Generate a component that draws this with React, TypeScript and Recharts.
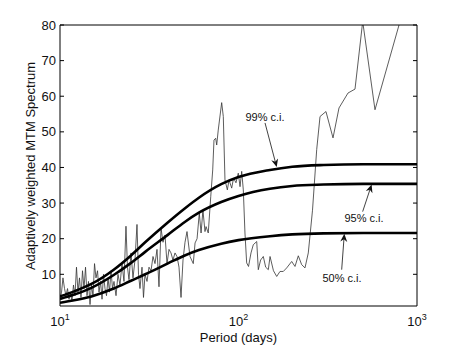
import { LineChart, Line, XAxis, YAxis, ReferenceLine, ReferenceDot } from "recharts";

// adaptively weighted MTM spectrum (period in days)
const specPeriods = [
  10.0, 10.2, 10.39, 10.6, 10.8, 11.02, 11.23, 11.45, 11.67, 11.9, 12.13, 12.37, 12.61, 12.86,
  13.11, 13.37, 13.63, 13.9, 14.17, 14.44, 14.73, 15.01, 15.31, 15.61, 15.91, 16.23, 16.54,
  16.87, 17.2, 17.53, 17.87, 18.22, 18.58, 18.94, 19.31, 19.69, 20.07, 20.6, 21.13, 21.68,
  22.25, 22.83, 23.42, 23.88, 24.35, 24.99, 25.64, 26.31, 27.0, 27.53, 28.06, 28.8, 29.36,
  29.94, 30.72, 31.52, 32.35, 33.19, 34.06, 34.95, 35.86, 36.8, 37.76, 38.75, 39.76, 40.8,
  41.86, 42.95, 44.09, 45.24, 46.42, 47.64, 48.88, 50.16, 51.47, 53.5, 55.8, 57.1, 58.6,
  60.3, 61.7, 63.2, 64.9, 65.8, 67.7, 69.9, 71.7, 72.9, 74.5, 75.5, 77.0, 80.5, 82.2, 84.0,
  86.6, 88.5, 91.6, 93.8, 96.8, 99.7, 102, 104.2, 106.4, 108.7, 111.1, 113.8, 117.5, 121,
  126.5, 129.1, 133, 137.7, 142, 146.9, 150.2, 157, 163.7, 170.8, 178.2, 186.2, 198.6,
  207.3, 216.3, 225.9, 235.8, 246, 259.8, 274.2, 286.2, 297.4, 309, 338.4, 365.6, 410.7,
  449.5, 496.4, 581.7, 793, 1000,
];
const specValues = [
  3, 5, 9, 6, 4, 6, 3, 5, 2.5, 7, 4, 12, 5, 9,
  3.5, 11, 6, 12, 4, 8, 1.5, 7, 4, 13, 9, 11, 5,
  8, 3, 10, 6, 4, 9, 5, 11, 6, 8, 4, 10, 7,
  13, 8, 23.5, 12, 8.5, 16, 9, 14, 24, 10, 6, 12, 3.5,
  10, 8, 12, 11, 15, 13, 17, 6.5, 23, 19, 21, 13, 17,
  16, 14, 16, 15, 12, 3.5, 14, 19, 22, 15, 13, 18.8, 20,
  27.2, 21.6, 28, 22, 23.4, 21.6, 31.8, 39.3, 47.7, 48.2, 46.3, 50.5, 58.2, 54.3, 36.5,
  33.7, 36.5, 34.2, 37, 35.7, 38.4, 34.6, 38.9, 33.7, 21.6, 13.2, 12.2, 16, 18.3,
  19.2, 11.3, 14, 15, 12, 11.3, 15, 11, 9.4, 10.8, 10.8, 11.8, 13.6,
  12.2, 15.2, 12.7, 11.8, 16, 28, 45, 54.3, 55, 55.7, 48.3, 56.7, 60.9,
  62, 81, 56.2, 80, 98,
];

// confidence levels
const ciPeriods = [10, 12, 15, 20, 25, 30, 40, 50, 60, 80, 100, 150, 200, 300, 500, 1000];
const ci99 = [3.8, 5.2, 7.3, 11.3, 15.3, 19, 24.5, 28.5, 31.5, 35.3, 37.3, 39.3, 40.2, 40.7, 40.9, 40.9];
const ci95 = [3.1, 4.3, 6.2, 9.8, 13.2, 16.3, 21, 24.7, 27.3, 30.3, 32, 34, 34.8, 35.2, 35.4, 35.4];
const ci50 = [2, 2.7, 3.8, 6, 8.2, 10, 13, 15.3, 16.8, 18.6, 19.6, 20.7, 21.2, 21.5, 21.6, 21.6];

const xMajor = [10, 100, 1000];
const xMinor = [20, 30, 40, 50, 60, 70, 80, 90, 100, 200, 300, 400, 500, 600, 700, 800, 900];
const yTicks = [10, 20, 30, 40, 50, 60, 70, 80];

// annotation: label position, arrow tail, arrow tip (data coords)
const notes = [
  { text: "99% c.i.", label: [140.8, 54.2], tail: [140.8, 52.5], tip: [163.7, 40.1] },
  { text: "95% c.i.", label: [505, 25.9], tail: [496, 27.6], tip: [557, 35.2] },
  { text: "50% c.i.", label: [380, 9.0], tail: [378.5, 11.3], tip: [391.6, 21.4] },
];

const spectrum = specPeriods.map((p, i) => ({ p, v: specValues[i] }));
const ciData = ciPeriods.map((p, i) => ({ p, c99: ci99[i], c95: ci95[i], c50: ci50[i] }));

const FONT = "'Liberation Sans', Arial, Helvetica, sans-serif";

function PowTick({ x, y, payload }: any) {
  const e = Math.round(Math.log10(payload.value));
  return (
    <text x={x} y={y + 20} textAnchor="middle" fill="#111" fontSize={13} fontFamily={FONT}>
      <tspan>10</tspan>
      <tspan dy={-6} fontSize={9}>{e}</tspan>
    </text>
  );
}

const NoTick = () => <g />;

function Arrow(props: any) {
  const { x1, y1, x2, y2 } = props;
  const dx = x2 - x1;
  const dy = y2 - y1;
  const len = Math.sqrt(dx * dx + dy * dy);
  const ux = dx / len;
  const uy = dy / len;
  const bx = x2 - ux * 8;
  const by = y2 - uy * 8;
  const head = `${x2},${y2} ${bx - uy * 3.5},${by + ux * 3.5} ${x2 - ux * 5.5},${y2 - uy * 5.5} ${bx + uy * 3.5},${by - ux * 3.5}`;
  return (
    <g>
      <line x1={x1} y1={y1} x2={x2 - ux * 5} y2={y2 - uy * 5} stroke="#111" strokeWidth={0.8} />
      <polygon points={head} fill="#111" />
    </g>
  );
}

export default function App() {
  return (
    <div style={{ width: 460, height: 346, background: "#fff" }}>
      <style>{"body{margin:0}"}</style>
      <LineChart width={460} height={346} margin={{ top: 25, right: 43, bottom: 0, left: 10 }}>
        <XAxis
          xAxisId="x"
          type="number"
          dataKey="p"
          scale="log"
          domain={[10, 1000]}
          allowDataOverflow
          ticks={xMajor}
          tick={<PowTick />}
          tickLine={false}
          tickSize={0}
          tickMargin={0}
          axisLine={{ stroke: "#000" }}
          height={40}
          label={{
            content: ({ viewBox }: any) => (
              <text
                x={viewBox.x + viewBox.width / 2}
                y={viewBox.y + 31}
                textAnchor="middle"
                dominantBaseline="central"
                fontSize={13}
                fontFamily={FONT}
                fill="#111"
              >
                Period (days)
              </text>
            ),
          }}
        />
        <XAxis xAxisId="xb" type="number" scale="log" domain={[10, 1000]} allowDataOverflow ticks={xMinor}
          mirror orientation="bottom" tick={<NoTick />} tickSize={4} tickLine={{ stroke: "#000" }} axisLine={false} />
        <XAxis xAxisId="xt" type="number" scale="log" domain={[10, 1000]} allowDataOverflow ticks={xMinor}
          mirror orientation="top" tick={<NoTick />} tickSize={4} tickLine={{ stroke: "#000" }} axisLine={{ stroke: "#000" }} />
        <YAxis
          yAxisId="y"
          type="number"
          domain={[1.1, 80]}
          allowDataOverflow
          ticks={yTicks}
          tickLine={false}
          tickSize={0}
          tickMargin={4}
          tick={{ fill: "#111", fontSize: 13, fontFamily: FONT }}
          axisLine={{ stroke: "#000" }}
          width={50}
          label={{
            content: () => (
              <text
                x={30.5}
                y={166}
                transform="rotate(-90 30.5 166)"
                textAnchor="middle"
                dominantBaseline="central"
                fontSize={13}
                fontFamily={FONT}
                fill="#111"
              >
                Adaptively weighted MTM Spectrum
              </text>
            ),
          }}
        />
        <YAxis yAxisId="yl" type="number" domain={[1.1, 80]} allowDataOverflow ticks={yTicks} mirror orientation="left"
          tick={<NoTick />} tickSize={4} tickLine={{ stroke: "#000" }} axisLine={false} />
        <YAxis yAxisId="yr" type="number" domain={[1.1, 80]} allowDataOverflow ticks={yTicks} mirror orientation="right"
          tick={<NoTick />} tickSize={4} tickLine={{ stroke: "#000" }} axisLine={{ stroke: "#000" }} />

        <Line xAxisId="x" yAxisId="y" data={spectrum} dataKey="v" stroke="#333" strokeWidth={0.8}
          dot={false} isAnimationActive={false} type="linear" />
        <Line xAxisId="x" yAxisId="y" data={ciData} dataKey="c99" stroke="#000" strokeWidth={2.6}
          dot={false} isAnimationActive={false} type="monotone" />
        <Line xAxisId="x" yAxisId="y" data={ciData} dataKey="c95" stroke="#000" strokeWidth={2.6}
          dot={false} isAnimationActive={false} type="monotone" />
        <Line xAxisId="x" yAxisId="y" data={ciData} dataKey="c50" stroke="#000" strokeWidth={2.6}
          dot={false} isAnimationActive={false} type="monotone" />

        {notes.map((n) => (
          <ReferenceLine
            key={n.text + "-arrow"}
            xAxisId="x"
            yAxisId="y"
            segment={[{ x: n.tail[0], y: n.tail[1] }, { x: n.tip[0], y: n.tip[1] }]}
            shape={(p: any) => <Arrow {...p} />}
          />
        ))}
        {notes.map((n) => (
          <ReferenceDot
            key={n.text}
            xAxisId="x"
            yAxisId="y"
            x={n.label[0]}
            y={n.label[1]}
            shape={(p: any) => (
              <text x={p.cx} y={p.cy} textAnchor="middle" dominantBaseline="central"
                fontSize={11} fontFamily={FONT} fill="#111">
                {n.text}
              </text>
            )}
          />
        ))}
      </LineChart>
    </div>
  );
}
